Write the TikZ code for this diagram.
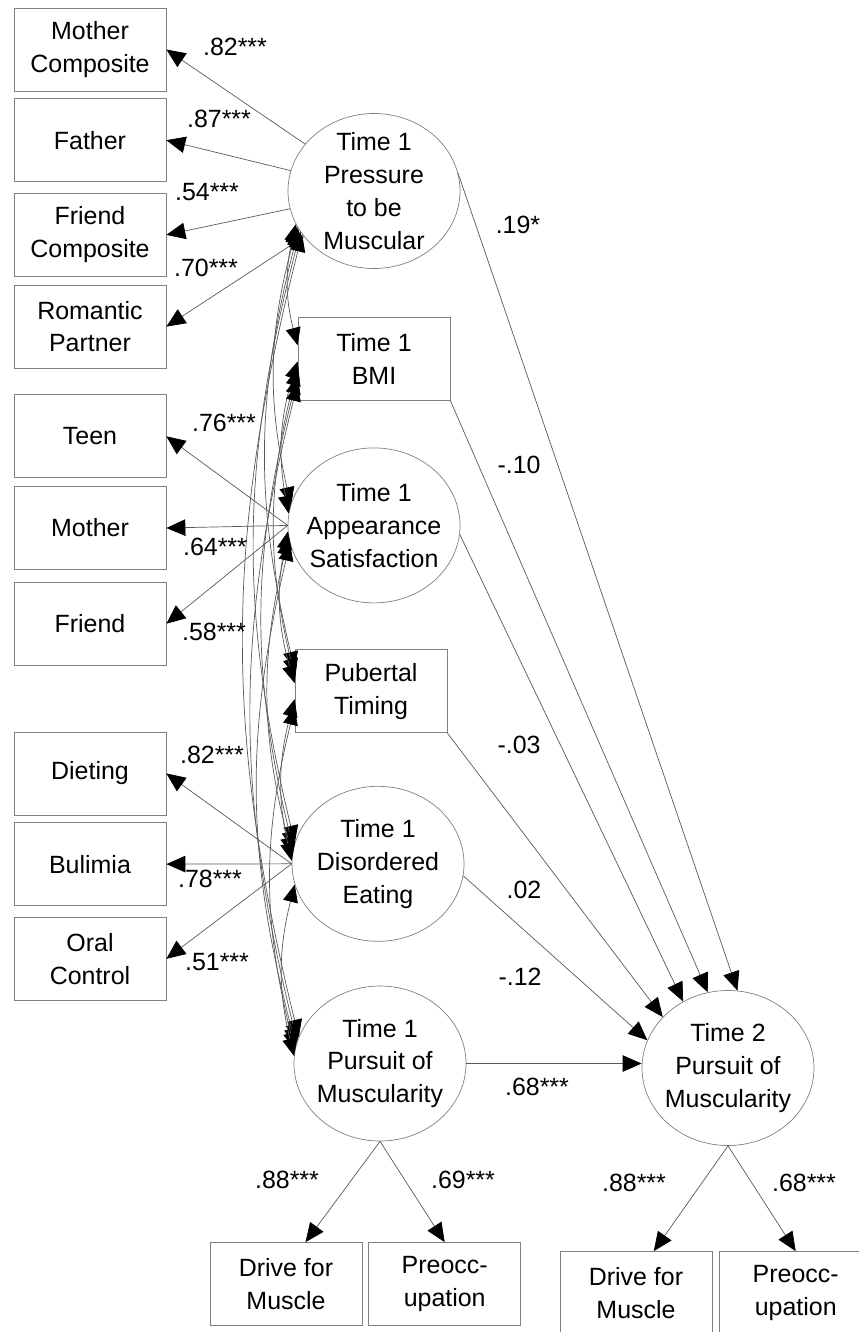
\documentclass[tikz,border=0pt]{standalone}
\usepackage{fontspec}
\setmainfont{Liberation Sans}
\usetikzlibrary{arrows.meta,positioning,shapes.geometric,calc}

\begin{document}
\begin{tikzpicture}[
every node/.style={font=\fontsize{14.2}{18.7}\selectfont},
box/.style={draw=black!50, align=center, inner sep=0pt, minimum width=3.04cm, minimum height=1.66cm},
latent/.style={draw=black!50, ellipse, align=center, inner sep=0pt, inner xsep=-8pt, inner ysep=-6pt, minimum width=3.44cm, minimum height=3.1cm},
coef/.style={inner sep=0pt},
line/.style={-{Triangle[length=3.8mm, width=3.3mm, color=black]}, black!65, line width=0.4pt},
corr/.style={{Triangle[length=3.5mm, width=3mm, color=black]}-{Triangle[length=3.5mm, width=3mm, color=black]}, black!65, line width=0.4pt}
]
\useasboundingbox (0,0) rectangle (17.16,-26.64);

% --- Time 1 constructs ---
\node[latent] (pressure) at (7.48,-3.82) {Time 1\\Pressure\\to be\\Muscular};
\node[box, below=0.96cm of pressure] (bmi) {Time 1\\BMI};
\node[latent, below=0.94cm of bmi] (appsat) {Time 1\\Appearance\\Satisfaction};
\node[box, below=0.92cm of appsat, xshift=-0.06cm] (pubertal) {Pubertal\\Timing};
\node[latent, below=1.06cm of pubertal, xshift=0.14cm] (diseat) {Time 1\\Disordered\\Eating};
\node[latent, below=0.88cm of diseat, xshift=0.04cm] (t1pm) {Time 1\\Pursuit of\\Muscularity};

% --- Indicators ---
\node[box] (mcomp) at (1.8,-0.99) {Mother\\Composite};
\node[box, below=0.14cm of mcomp] (father) {Father};
\node[box, below=0.22cm of father] (fcomp) {Friend\\Composite};
\node[box, below=0.16cm of fcomp] (partner) {Romantic\\Partner};
\node[box, below=0.52cm of partner] (teen) {Teen};
\node[box, below=0.16cm of teen] (mother) {Mother};
\node[box, below=0.24cm of mother] (friend) {Friend};
\node[box, below=1.32cm of friend] (dieting) {Dieting};
\node[box, below=0.14cm of dieting] (bulimia) {Bulimia};
\node[box, below=0.22cm of bulimia] (oral) {Oral\\Control};

% --- Time 2 construct ---
\node[latent] (t2pm) at (14.56,-21.36) {Time 2\\Pursuit of\\Muscularity};
\node[box] (drive1) at (5.72,-25.68) {Drive for\\Muscle};
\node[box, right=0.12cm of drive1] (preocc1) {Preocc-\\upation};
\node[box] (drive2) at (12.72,-25.86) {Drive for\\Muscle};
\node[box, right=0.14cm of drive2] (preocc2) {Preocc-\\upation};

% --- Loadings ---
\draw[line] (pressure) -- (mcomp.east);
\draw[line] (pressure) -- (father.east);
\draw[line] (pressure) -- (fcomp.east);
\draw[line] (pressure) -- (partner.east);

\draw[line] (appsat.west) -- (teen.east);
\draw[line] (appsat.west) -- (mother.east);
\draw[line] (appsat.west) -- (friend.east);

\draw[line] (diseat.west) -- (dieting.east);
\draw[line] (diseat.west) -- (bulimia.east);
\draw[line] (diseat.west) -- (oral.east);

\draw[line] (t1pm.south) -- (drive1.65);
\draw[line] (t1pm.south) -- (preocc1.north);
\draw[line] (t2pm.south) -- (drive2.67);
\draw[line] (t2pm.south) -- (preocc2.north);

% --- Paths to Time 2 ---
\draw[line] (pressure.12) -- (t2pm.83);
\draw[line] (bmi.south east) -- (t2pm.105);
\draw[line] (appsat.-6) -- (t2pm.124);
\draw[line] (pubertal.south east) -- (t2pm.142);
\draw[line] (diseat.-8) -- (t2pm.161);
\draw[line] (t1pm.east) -- (t1pm.east -| t2pm.west);

% --- Correlations ---
\draw[corr] (pressure.203) to[bend right=14] (bmi.170);
\draw[corr] (pressure.205) to[bend right=14] (appsat.166);
\draw[corr] (pressure.207) to[bend right=14] (pubertal.164);
\draw[corr] (pressure.209) to[bend right=14] (diseat.166);
\draw[corr] (pressure.211) to[bend right=14] (t1pm.162);

\draw[corr] (bmi.182) to[bend right=14] (appsat.172);
\draw[corr] (bmi.187) to[bend right=14] (pubertal.169);
\draw[corr] (bmi.193) to[bend right=14] (diseat.170);
\draw[corr] (bmi.198) to[bend right=14] (t1pm.165);

\draw[corr] (appsat.184) to[bend right=14] (pubertal.174);
\draw[corr] (appsat.188) to[bend right=14] (diseat.174);
\draw[corr] (appsat.192) to[bend right=14] (t1pm.168);

\draw[corr] (pubertal.186) to[bend right=14] (diseat.178);
\draw[corr] (pubertal.192) to[bend right=14] (t1pm.171);

\draw[corr] (diseat.194) to[bend right=14] (t1pm.175);

% --- Coefficients ---
\node[coef] (kmcomp) at (4.70,-0.94) {.82***};
\node[coef] (kfather) at (4.38,-2.38) {.87***};
\node[coef] (kfcomp) at (4.14,-3.84) {.54***};
\node[coef] (kpartner) at (4.12,-5.36) {.70***};
\node[coef] (kteen) at (4.48,-8.46) {.76***};
\node[coef] (kmother) at (4.30,-10.94) {.64***};
\node[coef] (kfriend) at (4.28,-12.64) {.58***};
\node[coef] (kdieting) at (4.24,-15.10) {.82***};
\node[coef] (kbulimia) at (4.20,-17.58) {.78***};
\node[coef] (koral) at (4.34,-19.24) {.51***};

\node[coef] (kpressure) at (10.36,-4.50) {.19*};
\node[coef] (kbmi) at (10.38,-9.30) {-.10};
\node[coef] (kpubertal) at (10.38,-14.90) {-.03};
\node[coef] (kdiseat) at (10.48,-17.80) {.02};
\node[coef] (kappsat) at (10.40,-19.54) {-.12};
\node[coef] (kstab) at (10.74,-21.74) {.68***};

\node[coef] (kdrive1) at (5.74,-23.60) {.88***};
\node[coef] (kpreocc1) at (9.26,-23.60) {.69***};
\node[coef] (kdrive2) at (12.68,-23.66) {.88***};
\node[coef] (kpreocc2) at (16.08,-23.66) {.68***};

\end{tikzpicture}
\end{document}
